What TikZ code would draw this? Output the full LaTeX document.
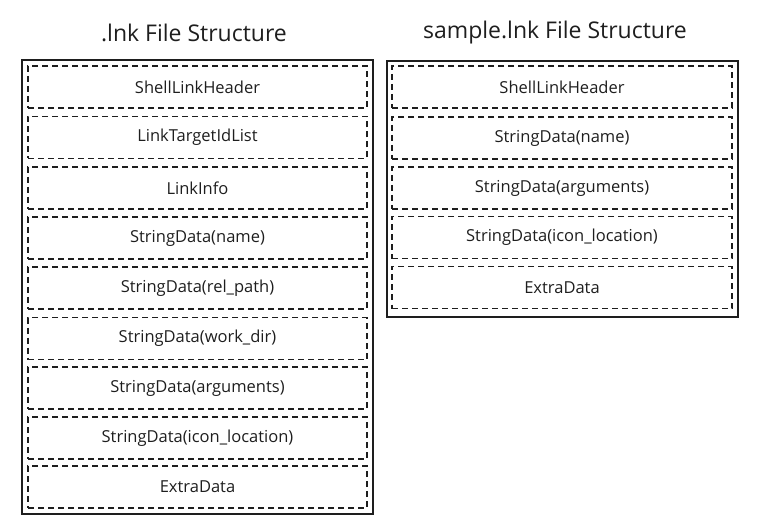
\documentclass[tikz,border=0pt]{standalone}
\usepackage{fontspec}
\setmainfont{Open Sans}
\usepackage{xcolor}
\usepackage{tikz}
\usetikzlibrary{positioning}
\definecolor{inkgray}{HTML}{1E1E1E}

\tikzset{
    part/.style={draw=inkgray, line width=1.1pt, dash pattern=on 6pt off 4pt,
                 minimum width=339pt, minimum height=42pt, inner sep=0pt,
                 text=inkgray, font=\fontsize{16.5}{19}\selectfont},
    frame/.style={draw=inkgray, line width=1.4pt, inner sep=0pt},
    heading/.style={text=inkgray, font=\fontsize{23}{26}\selectfont}
}

\begin{document}
\begin{tikzpicture}[x=1pt, y=-1pt]
        \useasboundingbox (0,0) rectangle (761,532);
        % left column: .lnk layout
        \node[heading] (lnktitle) at (194,33) {.lnk File Structure};
        \node[frame, minimum width=351pt, minimum height=454pt] (lnkbox) at (197.5,287) {};
        \node[part] (lhdr) at (197.5,87) {ShellLinkHeader};
        \node[part] (lidl) at (197.5,137.5) {LinkTargetIdList};
        \node[part] (linfo) at (197.5,188) {LinkInfo};
        \node[part] (lname) at (197.5,238) {StringData(name)};
        \node[part] (lrel) at (197.5,288) {StringData(rel\_path)};
        \node[part] (lwork) at (197.5,338.5) {StringData(work\_dir)};
        \node[part] (largs) at (197.5,388) {StringData(arguments)};
        \node[part] (licon) at (197.5,438) {StringData(icon\_location)};
        \node[part] (lextra) at (197.5,487) {ExtraData};
        % right column: sample.lnk layout
        \node[heading] (smptitle) at (555,33) {sample.lnk File Structure};
        \node[frame, minimum width=351pt, minimum height=256pt] (smpbox) at (562.5,189) {};
        \node[part, minimum width=340pt] (shdr) at (562,87) {ShellLinkHeader};
        \node[part, minimum width=340pt] (sname) at (562,138) {StringData(name)};
        \node[part, minimum width=340pt] (sargs) at (562,188) {StringData(arguments)};
        \node[part, minimum width=340pt] (sicon) at (562,237.5) {StringData(icon\_location)};
        \node[part, minimum width=340pt] (sextra) at (562,287.5) {ExtraData};
\end{tikzpicture}
\end{document}
